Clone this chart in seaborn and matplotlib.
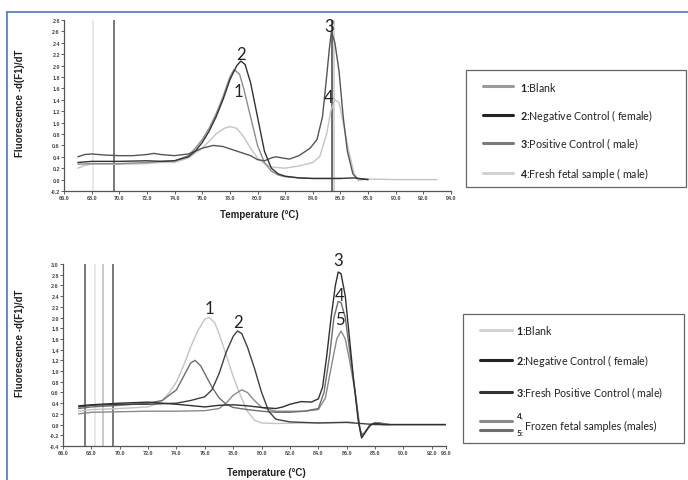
import matplotlib
matplotlib.use('Agg')
import matplotlib.pyplot as plt
import seaborn as sns
from matplotlib.lines import Line2D
from matplotlib.patches import Rectangle

# %% podaci - gornji grafik (sveze uzorci)

top_t1 = [67.0, 68.0, 70.0, 72.0, 73.0, 74.0, 75.0, 75.5, 76.0, 76.5, 77.0, 77.5, 78.0, 78.3, 78.7, 79.0, 79.5, 80.0, 80.5, 81.0, 81.5, 82.0, 83.0, 84.0, 85.0, 86.0]
top_v1 = [0.27, 0.28, 0.28, 0.30, 0.32, 0.33, 0.42, 0.55, 0.70, 0.90, 1.15, 1.45, 1.80, 1.93, 1.85, 1.60, 1.10, 0.60, 0.30, 0.15, 0.08, 0.05, 0.03, 0.02, 0.02, 0.02]

top_t2 = [67.0, 68.0, 70.0, 72.0, 73.0, 74.0, 75.0, 75.5, 76.0, 76.5, 77.0, 77.5, 78.0, 78.5, 78.8, 79.1, 79.5, 80.0, 80.5, 81.0, 81.5, 82.0, 83.0, 84.0, 86.0, 87.0, 88.0]
top_v2 = [0.30, 0.32, 0.32, 0.33, 0.32, 0.33, 0.40, 0.50, 0.65, 0.85, 1.10, 1.40, 1.75, 2.00, 2.08, 2.02, 1.70, 1.10, 0.50, 0.20, 0.10, 0.06, 0.03, 0.02, 0.02, 0.03, 0.00]

top_t3 = [67.0, 67.5, 68.0, 69.0, 70.0, 71.0, 72.0, 72.5, 73.0, 74.0, 75.0, 76.0, 76.8, 77.5, 78.5, 79.5, 80.0, 80.5, 81.0, 81.3, 81.8, 82.3, 83.0, 83.8, 84.3, 84.7, 85.0, 85.2, 85.35, 85.6, 85.9, 86.2, 86.5, 86.9, 87.2, 88.0]
top_v3 = [0.40, 0.44, 0.45, 0.43, 0.42, 0.42, 0.44, 0.46, 0.44, 0.42, 0.45, 0.55, 0.60, 0.58, 0.50, 0.42, 0.35, 0.33, 0.38, 0.40, 0.38, 0.36, 0.42, 0.55, 0.70, 1.10, 1.80, 2.30, 2.60, 2.40, 1.90, 1.10, 0.50, 0.10, 0.02, 0.00]

top_t4 = [67.0, 67.5, 68.0, 70.0, 72.0, 73.0, 74.0, 75.0, 76.0, 77.0, 77.6, 78.0, 78.5, 79.0, 79.5, 80.0, 80.5, 81.0, 82.0, 83.0, 84.0, 84.5, 85.0, 85.3, 85.6, 85.9, 86.2, 86.6, 87.0, 87.3, 87.6, 88.0, 90.0, 93.0]
top_v4 = [0.20, 0.25, 0.27, 0.27, 0.28, 0.30, 0.30, 0.38, 0.55, 0.80, 0.90, 0.93, 0.90, 0.75, 0.55, 0.38, 0.28, 0.22, 0.20, 0.24, 0.30, 0.40, 0.80, 1.20, 1.40, 1.35, 1.00, 0.50, 0.10, -0.02, 0.00, 0.01, 0.00, 0.00]

top_vlines = [68.1, 69.6, 85.4, 85.55]
top_vline_colors = ['#e2e2e2', '#555555', '#444444', '#c8c8c8']

top_xticks = [66, 68, 70, 72, 74, 76, 78, 80, 82, 84, 86, 88, 90, 92, 94]
top_yticks = [-0.2, 0.0, 0.2, 0.4, 0.6, 0.8, 1.0, 1.2, 1.4, 1.6, 1.8, 2.0, 2.2, 2.4, 2.6, 2.8]

top_legend = ['Blank', 'Negative Control ( female)', 'Positive Control ( male)', 'Fresh fetal sample ( male)']

# %% podaci - donji grafik (zamrznuti uzorci)

bot_t1 = [67.1, 68.0, 70.0, 72.0, 72.5, 73.0, 73.5, 74.0, 74.5, 75.0, 75.5, 76.0, 76.3, 76.7, 77.0, 77.5, 78.0, 78.5, 79.0, 79.5, 80.0, 81.0, 83.0, 85.0, 86.0, 86.5]
bot_v1 = [0.25, 0.28, 0.30, 0.33, 0.38, 0.45, 0.60, 0.80, 1.10, 1.45, 1.75, 1.97, 2.00, 1.90, 1.70, 1.30, 0.90, 0.55, 0.25, 0.08, 0.03, 0.02, 0.03, 0.04, 0.05, 0.04]

bot_t2 = [67.1, 68.0, 70.0, 72.0, 74.0, 75.0, 76.0, 76.5, 77.0, 77.5, 78.0, 78.3, 78.6, 79.0, 79.5, 80.0, 80.5, 81.0, 82.0, 84.0, 86.0, 86.5, 88.0, 90.0, 93.0]
bot_v2 = [0.33, 0.36, 0.38, 0.38, 0.40, 0.45, 0.52, 0.65, 0.95, 1.35, 1.65, 1.75, 1.70, 1.45, 1.05, 0.60, 0.25, 0.10, 0.05, 0.03, 0.04, 0.03, 0.00, 0.00, 0.00]

bot_t3 = [67.1, 68.0, 70.0, 72.0, 74.0, 76.0, 77.0, 78.0, 79.0, 80.0, 81.0, 81.5, 82.0, 82.8, 83.5, 84.0, 84.3, 84.6, 84.9, 85.2, 85.4, 85.6, 85.9, 86.2, 86.5, 86.8, 87.05, 87.3, 87.6, 88.0, 88.5, 93.0]
bot_v3 = [0.35, 0.37, 0.40, 0.42, 0.38, 0.33, 0.36, 0.37, 0.35, 0.32, 0.30, 0.33, 0.38, 0.43, 0.42, 0.48, 0.70, 1.30, 2.00, 2.60, 2.85, 2.82, 2.40, 1.60, 0.80, 0.10, -0.25, -0.15, -0.02, 0.03, 0.00, 0.00]

bot_t4 = [67.1, 68.0, 70.0, 72.0, 73.0, 74.0, 74.5, 75.0, 75.3, 75.7, 76.0, 76.5, 77.0, 77.5, 78.0, 79.0, 80.0, 81.0, 82.0, 83.0, 84.0, 84.4, 84.8, 85.1, 85.4, 85.6, 85.9, 86.2, 86.6, 86.9, 87.1, 87.4, 87.8, 88.3, 89.0]
bot_v4 = [0.30, 0.33, 0.36, 0.40, 0.45, 0.65, 0.90, 1.15, 1.20, 1.10, 0.95, 0.70, 0.50, 0.38, 0.32, 0.28, 0.25, 0.23, 0.23, 0.25, 0.30, 0.60, 1.30, 2.00, 2.30, 2.28, 2.00, 1.40, 0.60, -0.05, -0.20, -0.10, 0.02, 0.03, 0.00]

bot_t5 = [67.1, 68.0, 70.0, 72.0, 74.0, 76.0, 77.0, 77.5, 78.0, 78.6, 79.0, 79.5, 80.0, 81.0, 82.0, 83.0, 84.0, 84.5, 85.0, 85.3, 85.6, 85.9, 86.2, 86.6, 87.0, 87.3, 87.7, 88.3, 89.0]
bot_v5 = [0.20, 0.23, 0.24, 0.25, 0.25, 0.26, 0.30, 0.40, 0.55, 0.65, 0.60, 0.45, 0.32, 0.25, 0.25, 0.25, 0.28, 0.50, 1.20, 1.60, 1.75, 1.60, 1.20, 0.60, -0.20, -0.15, 0.00, 0.03, 0.00]

bot_vlines = [67.55, 68.25, 68.8, 69.5]
bot_vline_colors = ['#555555', '#e2e2e2', '#bbbbbb', '#555555']

bot_xticks = [66, 68, 70, 72, 74, 76, 78, 80, 82, 84, 86, 88, 90, 92, 93]
bot_yticks = [-0.4, -0.2, 0.0, 0.2, 0.4, 0.6, 0.8, 1.0, 1.2, 1.4, 1.6, 1.8, 2.0, 2.2, 2.4, 2.6, 2.8, 3.0]

bot_legend = ['Blank', 'Negative Control ( female)', 'Fresh Positive Control ( male)', 'Frozen fetal samples (males)']

# %% stil

sns.set_style('white')
plt.rcParams['font.family'] = ['Liberation Sans', 'DejaVu Sans']
plt.rcParams['mathtext.fontset'] = 'custom'
plt.rcParams['mathtext.rm'] = 'Lato'
plt.rcParams['mathtext.bf'] = 'Lato:bold'

W, H = 688, 481
fig = plt.figure(figsize=(W / 100, H / 100), dpi=100)


def fx(px):
    return px / W


def fy(py):
    return 1 - py / H


def setup_axes(ax, xticks, yticks, xlim, ylim):
    ax.set_xlim(*xlim)
    ax.set_ylim(*ylim)
    ax.set_xticks(xticks)
    ax.set_xticklabels([f'{t:.1f}' for t in xticks])
    ax.set_yticks(yticks)
    ax.set_yticklabels([f'{t:.1f}' for t in yticks])
    ax.tick_params(axis='both', direction='out', length=2, width=0.6, pad=1,
                   labelsize=3.9, colors='#444444', bottom=True, left=True)
    for lab in ax.get_xticklabels() + ax.get_yticklabels():
        lab.set_fontweight('bold')
    sns.despine(ax=ax)
    for s in ['left', 'bottom']:
        ax.spines[s].set_color('#555555')
        ax.spines[s].set_linewidth(0.9)
    ax.set_xlabel('')
    ax.set_ylabel('')


# %% gornji grafik

ax1 = fig.add_axes([fx(64), fy(192), fx(451 - 64), (192 - 21) / H])
for x, c in zip(top_vlines, top_vline_colors):
    ax1.axvline(x, color=c, lw=1.1, zorder=1)
top_curves = [(top_t4, top_v4, '#c4c4c4'), (top_t1, top_v1, '#8c8c8c'),
              (top_t3, top_v3, '#555555'), (top_t2, top_v2, '#333333')]
for t, v, c in top_curves:
    sns.lineplot(x=t, y=v, ax=ax1, color=c, lw=1.0, sort=False, estimator=None)
setup_axes(ax1, top_xticks, top_yticks, (66, 94), (-0.2, 2.8))

lbl_kw = dict(fontsize=12, family=['Lato', 'DejaVu Sans'], color='#222222',
              ha='center', va='center', clip_on=False)
ax1.text(78.8, 2.2, '2', **lbl_kw)
ax1.text(78.65, 1.55, '1', **lbl_kw)
ax1.text(85.2, 2.7, '3', **lbl_kw)
ax1.text(85.15, 1.45, '4', **lbl_kw)

# %% donji grafik

ax2 = fig.add_axes([fx(63), fy(447), fx(446 - 63), (447 - 265) / H])
for x, c in zip(bot_vlines, bot_vline_colors):
    ax2.axvline(x, color=c, lw=1.1, zorder=1)
bot_curves = [(bot_t1, bot_v1, '#c4c4c4'), (bot_t5, bot_v5, '#8a8a8a'),
              (bot_t4, bot_v4, '#6e6e6e'), (bot_t2, bot_v2, '#404040'),
              (bot_t3, bot_v3, '#303030')]
for t, v, c in bot_curves:
    sns.lineplot(x=t, y=v, ax=ax2, color=c, lw=1.0, sort=False, estimator=None)
setup_axes(ax2, bot_xticks, bot_yticks, (66, 93), (-0.4, 3.0))

ax2.text(76.3, 2.17, '1', **lbl_kw)
ax2.text(78.35, 1.92, '2', **lbl_kw)
ax2.text(85.4, 3.08, '3', **lbl_kw)
ax2.text(85.5, 2.42, '4', **lbl_kw)
ax2.text(85.5, 1.97, '5', **lbl_kw)

# %% natpisi osa

ax_kw = dict(fontsize=7, fontweight='bold', color='#222222', ha='center', va='center')
fig.text(fx(259), fy(215), 'Temperature (°C)', **ax_kw)
fig.text(fx(266), fy(473), 'Temperature (°C)', **ax_kw)
fig.text(fx(20), fy(103), 'Fluorescence -d(F1)/dT', rotation=90, **ax_kw)
fig.text(fx(20), fy(343), 'Fluorescence -d(F1)/dT', rotation=90, **ax_kw)

# %% legende (rucno)

leg_kw = dict(fontsize=7.7, family=['Lato', 'DejaVu Sans'], color='#222222', va='center', ha='left')

fig.add_artist(Rectangle((fx(466), fy(188)), fx(686 - 466), (188 - 71) / H,
                         transform=fig.transFigure, fill=False, ec='#666666', lw=0.9))
top_leg_y = [87, 116, 144, 174]
top_leg_colors = ['#9a9a9a', '#222222', '#7a7a7a', '#d2d2d2']
for i, (y, c, lab) in enumerate(zip(top_leg_y, top_leg_colors, top_legend)):
    fig.add_artist(Line2D([fx(483), fx(513)], [fy(y), fy(y)], color=c, lw=2.2,
                          transform=fig.transFigure))
    fig.text(fx(520), fy(y), rf'$\mathbf{{{i + 1}}}$:{lab}', **leg_kw)

fig.add_artist(Rectangle((fx(463), fy(444)), fx(684 - 463), (444 - 315) / H,
                         transform=fig.transFigure, fill=False, ec='#666666', lw=0.9))
bot_leg_y = [331, 361, 393]
bot_leg_colors = ['#d2d2d2', '#222222', '#333333']
for i, (y, c, lab) in enumerate(zip(bot_leg_y, bot_leg_colors, bot_legend[:3])):
    fig.add_artist(Line2D([fx(480), fx(512)], [fy(y), fy(y)], color=c, lw=2.2,
                          transform=fig.transFigure))
    fig.text(fx(516), fy(y), rf'$\mathbf{{{i + 1}}}$:{lab}', **leg_kw)
for y, c in zip([422, 431], ['#8a8a8a', '#6e6e6e']):
    fig.add_artist(Line2D([fx(480), fx(512)], [fy(y), fy(y)], color=c, lw=2.2,
                          transform=fig.transFigure))
small_kw = dict(leg_kw, fontsize=6)
fig.text(fx(516), fy(417), r'$\mathbf{4}$,', **small_kw)
fig.text(fx(516), fy(433), r'$\mathbf{5}$:', **small_kw)
fig.text(fx(525), fy(426), bot_legend[3], **leg_kw)

# %% plavi okvir

fig.add_artist(Line2D([fx(7), 1], [fy(13), fy(13)], color='#4a74c9', lw=1.2, transform=fig.transFigure))
fig.add_artist(Line2D([fx(7), fx(7)], [0, fy(13)], color='#4a74c9', lw=1.2, transform=fig.transFigure))

fig.savefig('out.png', dpi=100)
